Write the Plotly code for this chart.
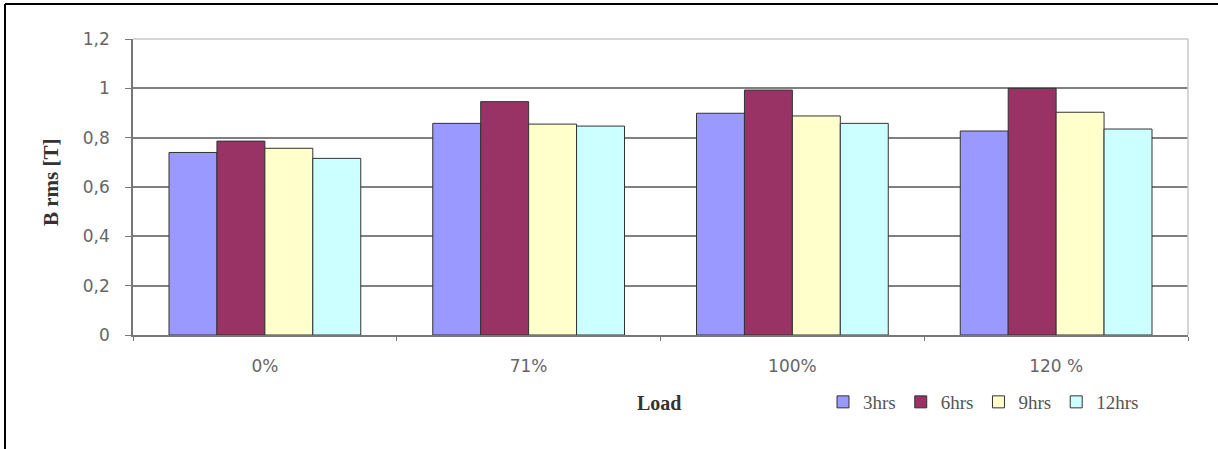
import plotly.graph_objects as go

categories = ["0%", "71%", "100%", "120 %"]
series_names = ["3hrs", "6hrs", "9hrs", "12hrs"]
hrs3 = [0.74, 0.858, 0.899, 0.827]
hrs6 = [0.786, 0.946, 0.993, 1.0]
hrs9 = [0.757, 0.855, 0.888, 0.903]
hrs12 = [0.716, 0.847, 0.858, 0.835]
series_values = [hrs3, hrs6, hrs9, hrs12]
colors = ["#9999FF", "#993366", "#FFFFCC", "#CCFFFF"]
y_ticks = [0, 0.2, 0.4, 0.6, 0.8, 1.0, 1.2]

W, H = 1218, 449
L, R, T, B = 133, 1188, 39, 335

fig = go.Figure()
for name, vals, col in zip(series_names, series_values, colors):
    fig.add_trace(go.Bar(
        x=categories, y=vals, name=name,
        marker=dict(color=col, line=dict(color="#333333", width=1)),
    ))

def px_x(p):
    return (p - L) / (R - L)

def px_y(p):
    return (B - p) / (B - T)

shapes = [
    # outer frame (left and top)
    dict(type="line", xref="paper", yref="paper", x0=px_x(5), x1=px_x(W + 5),
         y0=px_y(4), y1=px_y(4), line=dict(color="black", width=2)),
    dict(type="line", xref="paper", yref="paper", x0=px_x(5), x1=px_x(5),
         y0=px_y(4), y1=px_y(H + 5), line=dict(color="black", width=2)),
    # light plot border top and right
    dict(type="line", xref="paper", yref="paper", x0=0, x1=1, y0=1, y1=1,
         line=dict(color="#c8c8c8", width=1.5), layer="above"),
    dict(type="line", xref="paper", yref="paper", x0=1, x1=1, y0=0, y1=1,
         line=dict(color="#c8c8c8", width=1.5), layer="above"),
]

tick_font = dict(family="DejaVu Sans", size=17, color="#666666")

fig.update_layout(
    width=W, height=H,
    margin=dict(l=L, r=W - R, t=T, b=H - B),
    paper_bgcolor="white", plot_bgcolor="white",
    separators=",.",
    barmode="group", bargap=0.273, bargroupgap=0,
    font=dict(family="DejaVu Sans", size=12, color="#555555"),
    shapes=shapes,
    showlegend=True,
    legend=dict(orientation="h", x=px_x(823), y=px_y(402), xanchor="left", yanchor="middle",
                font=dict(family="Liberation Serif", size=19, color="#555555"),
                itemwidth=30, tracegroupgap=0, bgcolor="rgba(0,0,0,0)"),
    xaxis=dict(showline=True, linecolor="#777777", linewidth=1.5,
               ticks="outside", tickson="boundaries", ticklen=4, tickcolor="#777777",
               tickfont=tick_font, ticklabelstandoff=15,
               showgrid=False),
    yaxis=dict(range=[0, 1.2], tickvals=y_ticks, showline=True, linecolor="#777777",
               linewidth=1.5, ticks="outside", ticklen=6, tickcolor="#777777",
               showgrid=True, gridcolor="#808080", gridwidth=1.5, zeroline=False,
               tickfont=tick_font, ticklabelstandoff=12),
    annotations=[
        dict(text="<b>B rms [T]</b>", xref="paper", yref="paper",
             x=px_x(51), y=px_y(182), xanchor="center", yanchor="middle",
             textangle=-90, showarrow=False,
             font=dict(family="Liberation Serif", size=21, color="#333333")),
        dict(text="<b>Load</b>", xref="paper", yref="paper",
             x=px_x(659), y=px_y(403), xanchor="center", yanchor="middle",
             showarrow=False,
             font=dict(family="Liberation Serif", size=20, color="#333333")),
    ],
)

fig.write_html("out.html")
